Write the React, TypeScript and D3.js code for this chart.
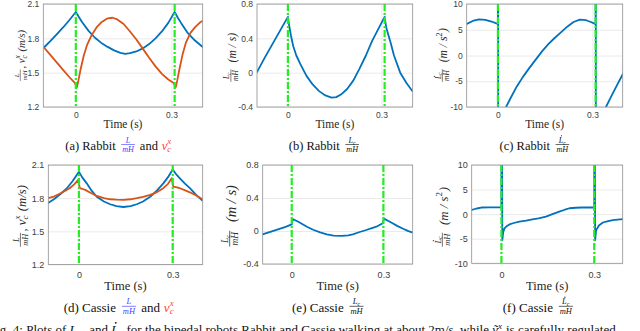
import React, { useEffect, useRef } from 'react';
import * as d3 from 'd3';

type Pt = [number, number];

// Rabbit: impacts at t = 0 and t = 0.31
const rabbitImpacts = [0, 0.31];
const rabbitL: Pt[] = [
  [-0.1, 1.72], [-0.08, 1.775], [-0.06, 1.835], [-0.04, 1.895], [-0.02, 1.96], [0, 2.03],
  [0.01, 1.985], [0.02, 1.94], [0.04, 1.865], [0.06, 1.805], [0.08, 1.76], [0.1, 1.725],
  [0.12, 1.695], [0.14, 1.673], [0.155, 1.665], [0.17, 1.67], [0.19, 1.685], [0.21, 1.712],
  [0.23, 1.75], [0.25, 1.8], [0.27, 1.86], [0.29, 1.935], [0.31, 2.03], [0.32, 1.98],
  [0.33, 1.935], [0.35, 1.85], [0.37, 1.79], [0.385, 1.755], [0.4, 1.72],
];
const rabbitV: Pt[] = [
  [-0.1, 1.72], [-0.08, 1.655], [-0.06, 1.59], [-0.04, 1.525], [-0.02, 1.46], [-0.003, 1.41],
  [0.003, 1.37], [0.008, 1.43], [0.015, 1.53], [0.025, 1.65], [0.035, 1.74], [0.05, 1.83],
  [0.065, 1.895], [0.08, 1.94], [0.1, 1.975], [0.115, 1.98], [0.13, 1.965], [0.15, 1.925],
  [0.17, 1.86], [0.19, 1.79], [0.21, 1.71], [0.23, 1.63], [0.25, 1.555], [0.27, 1.49],
  [0.29, 1.44], [0.307, 1.41], [0.313, 1.37], [0.318, 1.43], [0.325, 1.53], [0.335, 1.66],
  [0.345, 1.76], [0.36, 1.85], [0.375, 1.9], [0.39, 1.94], [0.4, 1.955],
];
const rabbitLc: Pt[] = [
  [-0.1, 0.0], [-0.075, 0.17], [-0.05, 0.33], [-0.025, 0.49], [0, 0.65], [0.004, 0.55],
  [0.01, 0.43], [0.017, 0.31], [0.027, 0.2], [0.04, 0.1], [0.06, -0.04], [0.08, -0.14],
  [0.1, -0.215], [0.12, -0.265], [0.14, -0.29], [0.155, -0.285], [0.17, -0.255], [0.19, -0.19],
  [0.21, -0.09], [0.23, 0.05], [0.25, 0.2], [0.27, 0.37], [0.29, 0.51], [0.31, 0.65],
  [0.315, 0.53], [0.322, 0.44], [0.33, 0.34], [0.34, 0.2], [0.36, 0.0], [0.38, -0.12], [0.4, -0.22],
];
const rabbitLcDot: Pt[] = [
  [-0.1, 6.1], [-0.08, 6.7], [-0.06, 7.0], [-0.04, 6.9], [-0.02, 6.6], [-0.005, 6.25], [0, 6.1],
  [0.0005, 60], [0.001, -60], [0.01, -16], [0.026, -10], [0.04, -8.3], [0.06, -6.0], [0.08, -4.1],
  [0.1, -2.4], [0.12, -0.8], [0.14, 0.8], [0.16, 2.2], [0.18, 3.4], [0.2, 4.5], [0.22, 5.6],
  [0.24, 6.5], [0.26, 6.95], [0.28, 6.85], [0.295, 6.5], [0.31, 6.1], [0.3105, 60], [0.311, -60],
  [0.32, -18], [0.343, -10], [0.36, -7.9], [0.38, -5.5], [0.4, -3.2],
];

// Cassie: impacts at t = 0 and t = 0.3
const cassieImpacts = [0, 0.3];
const cassieL: Pt[] = [
  [-0.1, 1.754], [-0.08, 1.79], [-0.06, 1.835], [-0.04, 1.885], [-0.02, 1.955], [0, 2.04],
  [0.01, 1.99], [0.025, 1.934], [0.04, 1.87], [0.057, 1.813], [0.08, 1.77], [0.1, 1.745],
  [0.12, 1.728], [0.142, 1.72], [0.165, 1.728], [0.185, 1.745], [0.205, 1.77], [0.228, 1.813],
  [0.25, 1.87], [0.27, 1.934], [0.285, 1.99], [0.3, 2.06], [0.31, 2.02], [0.323, 1.98],
  [0.34, 1.93], [0.355, 1.89], [0.375, 1.83], [0.396, 1.775],
];
const cassieV: Pt[] = [
  [-0.1, 1.8], [-0.08, 1.815], [-0.062, 1.84], [-0.045, 1.865], [-0.03, 1.89], [-0.015, 1.925],
  [-0.003, 1.964], [0.003, 1.89], [0.01, 1.885], [0.02, 1.875], [0.04, 1.845], [0.057, 1.82],
  [0.08, 1.8], [0.1, 1.79], [0.12, 1.786], [0.142, 1.785], [0.165, 1.79], [0.185, 1.8],
  [0.205, 1.812], [0.228, 1.83], [0.25, 1.855], [0.27, 1.89], [0.285, 1.93], [0.297, 1.98],
  [0.302, 1.905], [0.31, 1.9], [0.323, 1.89], [0.34, 1.87], [0.355, 1.853], [0.375, 1.825], [0.396, 1.79],
];
const cassieLc: Pt[] = [
  [-0.1, -0.045], [-0.07, -0.01], [-0.045, 0.02], [-0.02, 0.05], [0, 0.08], [0.003, 0.145],
  [0.02, 0.115], [0.05, 0.052], [0.07, 0.015], [0.093, -0.016], [0.115, -0.04], [0.137, -0.056],
  [0.164, -0.06], [0.185, -0.052], [0.2, -0.04], [0.22, -0.015], [0.244, 0.012], [0.26, 0.032],
  [0.277, 0.052], [0.298, 0.093], [0.302, 0.15], [0.315, 0.125], [0.33, 0.093], [0.345, 0.062],
  [0.363, 0.03], [0.38, 0.002], [0.396, -0.02],
];
const cassieLcDot: Pt[] = [
  [-0.1, 0.8], [-0.08, 1.15], [-0.065, 1.35], [-0.04, 1.39], [-0.02, 1.39], [0, 1.39],
  [0.0005, 40], [0.003, -5.3], [0.006, -3.6], [0.01, -2.9], [0.018, -2.4], [0.026, -2.1],
  [0.04, -1.8], [0.058, -1.5], [0.08, -1.3], [0.1, -1.05], [0.12, -0.85], [0.144, -0.5],
  [0.165, 0.0], [0.187, 0.5], [0.205, 0.9], [0.22, 1.2], [0.24, 1.3], [0.26, 1.35], [0.28, 1.35],
  [0.3, 1.35], [0.3005, 40], [0.303, -5.3], [0.306, -3.3], [0.315, -2.3], [0.328, -1.7],
  [0.345, -1.4], [0.36, -1.2], [0.375, -1.1], [0.396, -1.0],
];

const timeTicks = [0, 0.3];
const velTicks = [1.2, 1.5, 1.8, 2.1];
const momTicks = [-0.4, 0, 0.4, 0.8];
const rateTicks = [-10, -5, 0, 5, 10];

const W = 640, H = 331;
const BLUE = '#0072bd', ORANGE = '#d95319', GREEN = '#22ee22';
const CAP_BLUE = '#3f3fff', CAP_RED = '#ff3b3b';
const SERIF = '"Liberation Serif", "Times New Roman", serif';
const SANS = '"Liberation Sans", Arial, sans-serif';

type Item =
  | { k: 'txt'; s: string; it?: boolean; dot?: boolean; c?: string }
  | { k: 'ss'; sub?: string; sup?: string; c?: string }
  | { k: 'frac'; num: Item[]; den: Item[]; c?: string }
  | { k: 'gap'; w: number };

const L_it: Item = { k: 'txt', s: 'L', it: true };
const mH: Item = { k: 'txt', s: 'mH', it: true };
const velLabel: Item[] = [
  { k: 'frac', num: [L_it], den: [mH] }, { k: 'txt', s: ',' }, { k: 'gap', w: 0.25 },
  { k: 'txt', s: 'v', it: true }, { k: 'ss', sub: 'c', sup: 'x' }, { k: 'gap', w: 0.3 },
  { k: 'txt', s: '(m/s)', it: true },
];
const momLabel: Item[] = [
  { k: 'frac', num: [L_it, { k: 'ss', sub: 'c' }], den: [mH] }, { k: 'gap', w: 0.5 },
  { k: 'txt', s: '(m / s)', it: true },
];
const rateLabel: Item[] = [
  { k: 'frac', num: [{ k: 'txt', s: 'L', it: true, dot: true }, { k: 'ss', sub: 'c' }], den: [mH] },
  { k: 'gap', w: 0.5 }, { k: 'txt', s: '(m / s', it: true }, { k: 'ss', sup: '2' }, { k: 'txt', s: ')', it: true },
];
const vcx: Item[] = [{ k: 'txt', s: 'v', it: true, c: CAP_RED }, { k: 'ss', sub: 'c', sup: 'x', c: CAP_RED }];
const capVel = (lab: string): Item[] => [
  { k: 'txt', s: lab }, { k: 'gap', w: 0.35 },
  { k: 'frac', num: [L_it], den: [mH], c: CAP_BLUE }, { k: 'gap', w: 0.3 },
  { k: 'txt', s: 'and' }, { k: 'gap', w: 0.3 }, ...vcx,
];
const capMom = (lab: string): Item[] => [
  { k: 'txt', s: lab }, { k: 'gap', w: 0.35 },
  { k: 'frac', num: [L_it, { k: 'ss', sub: 'c' }], den: [mH] },
];
const capRate = (lab: string): Item[] => [
  { k: 'txt', s: lab }, { k: 'gap', w: 0.35 },
  { k: 'frac', num: [{ k: 'txt', s: 'L', it: true, dot: true }, { k: 'ss', sub: 'c' }], den: [mH] },
];

const rows = [
  { tick: 8.5, tickBase: 118, time: 11.5, timeBase: 128, cap: 12.5, capBase: 149.5 },
  { tick: 9, tickBase: 277.5, time: 12.5, timeBase: 289.5, cap: 13, capBase: 311.5 },
];

const panels = [
  { key: 'a', row: 0, box: [43.3, 4, 202.7, 107], xDomain: [-0.102, 0.398], yDomain: [1.2, 2.1], yTicks: velTicks,
    series: [{ data: rabbitL, color: BLUE }, { data: rabbitV, color: ORANGE }], impacts: rabbitImpacts,
    ylab: { items: velLabel, x: 24.5, cy: 56, len: 52 }, cap: { items: capVel('(a) Rabbit'), cx: 118.5 } },
  { key: 'b', row: 0, box: [257, 4, 412.7, 107], xDomain: [-0.099, 0.4], yDomain: [-0.4, 0.8], yTicks: momTicks,
    series: [{ data: rabbitLc, color: BLUE }], impacts: rabbitImpacts,
    ylab: { items: momLabel, x: 235.5, cy: 58, len: 50 }, cap: { items: capMom('(b) Rabbit'), cx: 324.5 } },
  { key: 'c', row: 0, box: [466.7, 4, 622.7, 107], xDomain: [-0.099, 0.396], yDomain: [-10, 10], yTicks: rateTicks,
    series: [{ data: rabbitLcDot, color: BLUE }], impacts: rabbitImpacts,
    ylab: { items: rateLabel, x: 447, cy: 55.5, len: 55 }, cap: { items: capRate('(c) Rabbit'), cx: 535 } },
  { key: 'd', row: 1, box: [48.3, 165, 202.7, 264.5], xDomain: [-0.098, 0.396], yDomain: [1.2, 2.1], yTicks: velTicks,
    series: [{ data: cassieL, color: BLUE }, { data: cassieV, color: ORANGE }], impacts: cassieImpacts,
    ylab: { items: velLabel, x: 25.5, cy: 216.5, len: 63 }, cap: { items: capVel('(d) Cassie'), cx: 119 } },
  { key: 'e', row: 1, box: [262.7, 165, 412.7, 264], xDomain: [-0.095, 0.396], yDomain: [-0.4, 0.8], yTicks: momTicks,
    series: [{ data: cassieLc, color: BLUE }], impacts: cassieImpacts,
    ylab: { items: momLabel, x: 235.5, cy: 216.5, len: 63 }, cap: { items: capMom('(e) Cassie'), cx: 328.5 } },
  { key: 'f', row: 1, box: [471.7, 165, 622.7, 263.3], xDomain: [-0.096, 0.392], yDomain: [-10, 10], yTicks: rateTicks,
    series: [{ data: cassieLcDot, color: BLUE }], impacts: cassieImpacts,
    ylab: { items: rateLabel, x: 447.5, cy: 217.5, len: 61 }, cap: { items: capRate('(f) Cassie'), cx: 538.5 } },
];

type G = d3.Selection<SVGGElement, unknown, null, undefined>;

// lays out a run of text / fractions / sub-superscripts from x, baseline at y = 0
function place(g: G, items: Item[], size: number, color: string, x = 0): number {
  items.forEach(it => {
    if (it.k === 'gap') { x += it.w * size; return; }
    const col = it.c || color;
    if (it.k === 'txt') {
      const t = g.append('text').attr('x', x).attr('y', 0)
        .attr('font-family', SERIF).attr('font-size', size)
        .attr('font-style', it.it ? 'italic' : 'normal').attr('fill', col).text(it.s);
      const w = (t.node() as SVGTextElement).getComputedTextLength();
      if (it.dot) g.append('circle').attr('cx', x + w * 0.62).attr('cy', -size * 0.86).attr('r', size * 0.07).attr('fill', col);
      x += w;
    } else if (it.k === 'ss') {
      const s2 = size * 0.7;
      let w = 0;
      if (it.sub) {
        const t = g.append('text').attr('x', x).attr('y', size * 0.22).attr('font-family', SERIF)
          .attr('font-size', s2).attr('font-style', 'italic').attr('fill', col).text(it.sub);
        w = Math.max(w, (t.node() as SVGTextElement).getComputedTextLength());
      }
      if (it.sup) {
        const t = g.append('text').attr('x', x).attr('y', -size * 0.42).attr('font-family', SERIF)
          .attr('font-size', s2).attr('font-style', it.sup === '2' ? 'normal' : 'italic').attr('fill', col).text(it.sup);
        w = Math.max(w, (t.node() as SVGTextElement).getComputedTextLength());
      }
      x += w + size * 0.05;
    } else {
      const fs = size * 0.65;
      const gn = g.append('g');
      const gd = g.append('g');
      const wn = place(gn, it.num, fs, col);
      const wd = place(gd, it.den, fs, col);
      const pad = size * 0.1;
      const w = Math.max(wn, wd) + size * 0.15;
      const bar = -size * 0.4;
      gn.attr('transform', `translate(${x + pad + (w - wn) / 2},${bar - size * 0.14})`);
      gd.attr('transform', `translate(${x + pad + (w - wd) / 2},${bar + size * 0.6})`);
      g.append('line').attr('x1', x + pad).attr('x2', x + pad + w).attr('y1', bar).attr('y2', bar)
        .attr('stroke', col).attr('stroke-width', Math.max(0.5, size * 0.05));
      x += w + 2 * pad;
    }
  });
  return x;
}

export default function App() {
  const svgRef = useRef<SVGSVGElement>(null);

  useEffect(() => {
    const svg = d3.select(svgRef.current);
    svg.selectAll('*').remove();
    svg.append('rect').attr('width', W).attr('height', H).attr('fill', '#fff');

    panels.forEach(p => {
      const rs = rows[p.row];
      const [x0, y0, x1, y1] = p.box;
      const x = d3.scaleLinear().domain(p.xDomain).range([x0, x1]);
      const y = d3.scaleLinear().domain(p.yDomain).range([y1, y0]);
      const g = svg.append('g');
      const clipId = 'clip-' + p.key;
      svg.append('clipPath').attr('id', clipId).append('rect')
        .attr('x', x0).attr('y', y0).attr('width', x1 - x0).attr('height', y1 - y0);

      // grid
      const gy = g.append('g').attr('transform', `translate(${x0},0)`)
        .call(d3.axisLeft(y).tickValues(p.yTicks).tickSize(-(x1 - x0)).tickFormat(() => ''));
      const gx = g.append('g').attr('transform', `translate(0,${y1})`)
        .call(d3.axisBottom(x).tickValues(timeTicks).tickSize(-(y1 - y0)).tickFormat(() => ''));
      [gy, gx].forEach(a => {
        a.select('.domain').remove();
        a.selectAll('line').attr('stroke', '#e4e4e4').attr('stroke-width', 0.8);
      });

      // curves
      const line = d3.line<Pt>().x(d => x(d[0])).y(d => y(d[1]));
      p.series.forEach(s => {
        g.append('path').attr('d', line(s.data)).attr('fill', 'none')
          .attr('stroke', s.color).attr('stroke-width', 1.8).attr('stroke-linejoin', 'round')
          .attr('clip-path', `url(#${clipId})`);
      });

      // impact instants
      p.impacts.forEach(t => {
        g.append('line').attr('x1', x(t)).attr('x2', x(t)).attr('y1', y0).attr('y2', y1)
          .attr('stroke', GREEN).attr('stroke-width', 2.2).attr('stroke-dasharray', '7,2,2,2');
      });

      // frame
      g.append('rect').attr('x', x0).attr('y', y0).attr('width', x1 - x0).attr('height', y1 - y0)
        .attr('fill', 'none').attr('stroke', '#8f8f8f').attr('stroke-width', 0.8);

      // tick labels
      const ya = g.append('g').attr('transform', `translate(${x0},0)`)
        .call(d3.axisLeft(y).tickValues(p.yTicks).tickSize(0).tickPadding(4).tickFormat(d => String(d)));
      ya.select('.domain').remove();
      ya.selectAll('text').attr('font-family', SANS).attr('font-size', rs.tick).attr('fill', '#404040');
      const xa = g.append('g').attr('transform', `translate(0,${rs.tickBase})`)
        .call(d3.axisBottom(x).tickValues(timeTicks).tickSize(0).tickFormat(d => String(d)));
      xa.select('.domain').remove();
      xa.selectAll('text').attr('y', 0).attr('dy', 0)
        .attr('font-family', SANS).attr('font-size', rs.tick).attr('fill', '#404040');

      g.append('text').attr('x', (x0 + x1) / 2).attr('y', rs.timeBase).attr('text-anchor', 'middle')
        .attr('font-family', SERIF).attr('font-size', rs.time).attr('fill', '#262626').text('Time (s)');

      // y label, rotated and fitted to its length in the figure
      const yl = g.append('g');
      const inner = yl.append('g');
      const wl = place(inner, p.ylab.items, 10, '#262626');
      const k = p.ylab.len / wl;
      yl.attr('transform', `translate(${p.ylab.x},${p.ylab.cy}) rotate(-90) scale(${k}) translate(${-wl / 2},0)`);

      // caption
      const cg = svg.append('g');
      const wc = place(cg, p.cap.items, rs.cap, '#111');
      cg.attr('transform', `translate(${p.cap.cx - wc / 2},${rs.capBase})`);
    });

    // figure caption, cut by the bottom edge
    const fc = svg.append('g').attr('transform', 'translate(-11,334)');
    place(fc, [
      { k: 'txt', s: 'Fig. 4: Plots of' }, { k: 'gap', w: 0.25 }, { k: 'txt', s: 'L', it: true },
      { k: 'ss', sub: 'c' }, { k: 'gap', w: 0.6 }, { k: 'txt', s: 'and' }, { k: 'gap', w: 0.25 },
      { k: 'txt', s: 'L', it: true, dot: true }, { k: 'ss', sub: 'c' }, { k: 'gap', w: 0.25 },
      { k: 'txt', s: 'for the bipedal robots Rabbit and Cassie walking at about 2m/s, while' },
      { k: 'gap', w: 0.25 }, { k: 'txt', s: 'v\u0303', it: true }, { k: 'ss', sub: 'c', sup: 'x' },
      { k: 'gap', w: 0.25 }, { k: 'txt', s: 'is carefully regulated' },
    ], 13, '#111');
  }, []);

  return (
    <svg ref={svgRef} width={W} height={H}
      style={{ position: 'absolute', left: 0, top: 0, background: '#fff' }} />
  );
}
